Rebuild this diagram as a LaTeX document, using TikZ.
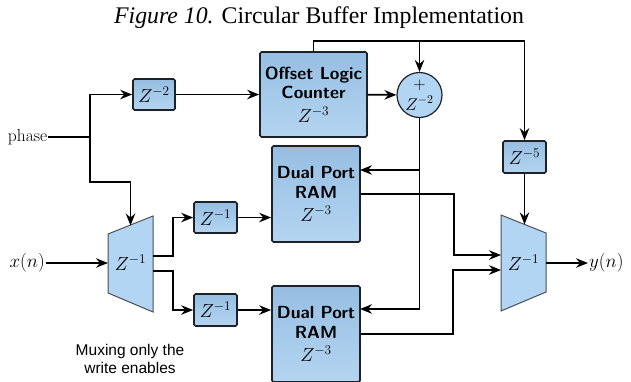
\documentclass[tikz,border=0pt]{standalone}
\usepackage{fix-cm}
\usepackage{fontspec}
\usepackage{tikz}
\usetikzlibrary{arrows.meta,shadows}
\newfontfamily\titlefont{Liberation Serif}
\newfontfamily\notefont{Liberation Sans}
\definecolor{boxtop}{RGB}{150,190,226}
\definecolor{boxbot}{RGB}{180,213,241}
\definecolor{muxfill}{RGB}{178,213,243}
\definecolor{edge}{RGB}{30,33,38}

\begin{document}
\begin{tikzpicture}[x=1pt, y=-1pt,
  every node/.style={font=\fontsize{19}{21}\selectfont},
  blk/.style={draw=edge, line width=1.7pt, rounded corners=1.5pt, align=center, inner sep=1pt,
    top color=boxtop, bottom color=boxbot,
    drop shadow={shadow xshift=1.2pt, shadow yshift=-1.2pt, opacity=0.25}},
  bold/.style={font=\fontsize{17.5}{19.5}\selectfont\sffamily\bfseries},
  muxshape/.style={draw=edge!80, line width=1pt, fill=muxfill},
  line/.style={line width=1.7pt},
  arr/.style={line width=1.7pt, -{Stealth[length=12pt, width=9.5pt, inset=4pt]}}
]
\useasboundingbox (0,0) rectangle (631,381);

\node[font=\titlefont\fontsize{23.8}{28}\selectfont, anchor=base] (title) at (319,23.3)
  {\textit{Figure 10.} Circular Buffer Implementation};

% delay blocks and memories
\node[blk, minimum width=42, minimum height=31] (z2) at (154,94.5) {$Z^{-2}$};
\node[blk, bold, minimum width=107, minimum height=85] (off) at (313.5,94.5) {Offset Logic\\Counter\\[4pt]\normalfont\fontsize{19}{20}\selectfont$Z^{-3}$};
\node[circle, draw=edge, line width=1.2pt, fill=muxfill, minimum size=45, inner sep=0, align=center,
  font=\fontsize{17}{19.5}\selectfont] (circ) at (419.5,95) {$+$\\[1pt]$Z^{-2}$};
\node[blk, minimum width=43, minimum height=32] (z5) at (524.5,157) {$Z^{-5}$};
\node[blk, bold, minimum width=88, minimum height=96] (ram1) at (316,194) {Dual Port\\RAM\\[4pt]\normalfont\fontsize{19}{20}\selectfont$Z^{-3}$};
\node[blk, bold, minimum width=88, minimum height=96] (ram2) at (316,334) {Dual Port\\RAM\\[4pt]\normalfont\fontsize{19}{20}\selectfont$Z^{-3}$};
\node[blk, minimum width=43, minimum height=31] (z1a) at (215.5,217.5) {$Z^{-1}$};
\node[blk, minimum width=43, minimum height=32] (z1b) at (215.5,310) {$Z^{-1}$};

% muxes
\draw[muxshape] (108,234) -- (153,216) -- (153,312) -- (108,293) -- cycle;
\node (muxin) at (130.5,263) {$Z^{-1}$};
\draw[muxshape] (501,215) -- (546,233) -- (546,292) -- (501,311) -- cycle;
\node (muxout) at (523.5,263) {$Z^{-1}$};

% labels
\node[anchor=east, inner sep=0.5pt, font=\fontsize{17.5}{20}\selectfont] (phase) at (48,137) {phase};
\node[anchor=east, inner sep=1pt] (xn) at (46,263) {$x(n)$};
\node[anchor=west, inner sep=1pt] (yn) at (588,263) {$y(n)$};
\node[font=\notefont\fontsize{15.5}{17.7}\selectfont, align=center] (note) at (130,359) {Muxing only the\\write enables};

\coordinate (jn) at (90,137);
\coordinate (selin) at (130.5,225.5);
\coordinate (selout) at (524.5,224.4);
\coordinate (topr) at (524.5,41);
\coordinate (ramin1) at (360,170);
\coordinate (ramin2) at (360,309);
\coordinate (mi) at (108,263);
\coordinate (mo) at (546,263);
\coordinate (mia) at (153,256);
\coordinate (mib) at (153,271);
\coordinate (moa) at (501,255);
\coordinate (mob) at (501,270);

% connections
\draw[line] (phase.east) -- (jn);
\draw[arr] (jn) |- (z2.west);
\draw[arr] (jn) |- (130.5,182) -- (selin);
\draw[arr] (z2) -- (off);
\draw[arr] (off) -- (circ);
\draw[arr] (off.north) |- (topr) -- (z5.north);
\draw[arr] (circ.north |- topr) -- (circ.north);
\draw[arr] (circ.south) |- (ramin1);
\draw[arr] (circ.south) |- (ramin2);
\draw[arr] (xn) -- (mi);
\draw[arr] (mia) -- ++(20,0) |- (z1a.west);
\draw[arr] (mib) -- ++(20,0) |- (z1b.west);
\draw[arr] (z1a) -- (z1a -| ram1.west);
\draw[arr] (z1b) -- (z1b -| ram2.west);
\draw[arr] (ram1.east) -- ++(93,0) |- (moa);
\draw[arr] (ram2.east) -- ++(92,0) |- (mob);
\draw[arr] (z5) -- (selout);
\draw[arr] (mo) -- (yn);
\end{tikzpicture}
\end{document}
